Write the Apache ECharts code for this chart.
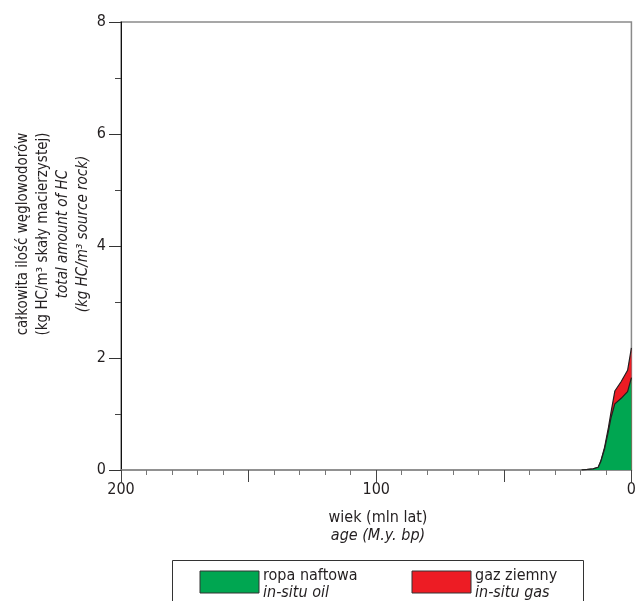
<!DOCTYPE html>
<html>
<head>
<meta charset="utf-8">
<script src="https://cdn.jsdelivr.net/npm/echarts@6/dist/echarts.min.js"></script>
<style>
html,body{margin:0;padding:0;background:#fff;}
#c{width:639px;height:601px;}
</style>
</head>
<body>
<div id="c"></div>
<script>
// ---- data ----
var ages = [19.5, 19, 15, 13, 12, 10.5, 9, 8, 6.5, 4, 1.5, 0];          // M.y. bp
var oil  = [0, 0, 0.02, 0.05, 0.15, 0.38, 0.7, 0.93, 1.18, 1.28, 1.40, 1.65]; // kg HC/m3
var gas  = [0, 0, 0, 0, 0.01, 0.03, 0.06, 0.10, 0.23, 0.30, 0.38, 0.53];     // kg HC/m3
var xTicks = [0, 100, 200];
var yTicks = [0, 2, 4, 6, 8];
var yTitle = ['całkowita ilość węglowodorów', '(kg HC/m³ skały macierzystej)', 'total amount of HC', '(kg HC/m³ source rock)'];
var xTitle = ['wiek (mln lat)', 'age (M.y. bp)'];
var legendNames = [['ropa naftowa', 'in-situ oil'], ['gaz ziemny', 'in-situ gas']];
var colors = ['#00a651', '#ed1c24'];

var FONT = "'DejaVu Sans Condensed', 'Liberation Sans', sans-serif";
var TXT = '#231f20';

// cumulative (oil + gas) for the gas band's top edge
var total = oil.map(function (v, i) { return +(v + gas[i]).toFixed(3); });
function pairs(a, b) { return a.map(function (v, i) { return [v, b[i]]; }); }

var chart = echarts.init(document.getElementById('c'), null, {renderer: 'canvas'});

var graphic = [];
// y-axis title (rotated)
var yX = [23, 43, 63, 83];
yTitle.forEach(function (t, i) {
  graphic.push({
    type: 'text', x: yX[i], y: 234, rotation: Math.PI / 2,
    style: {text: t, font: (i >= 2 ? 'italic ' : '') + '15px ' + FONT, fill: TXT,
      textAlign: 'center', textVerticalAlign: 'middle'}
  });
});
// x-axis title
xTitle.forEach(function (t, i) {
  graphic.push({
    type: 'text', x: 378, y: 518 + i * 18,
    style: {text: t, font: (i === 1 ? 'italic ' : '') + '16px ' + FONT, fill: TXT,
      textAlign: 'center', textVerticalAlign: 'middle'}
  });
});
// legend box
graphic.push({type: 'rect', shape: {x: 172.5, y: 560.5, width: 411, height: 60},
  style: {fill: 'none', stroke: '#333', lineWidth: 1}});
var legX = [200, 412];
legendNames.forEach(function (n, i) {
  graphic.push({type: 'rect', shape: {x: legX[i], y: 571, width: 59, height: 22},
    style: {fill: colors[i], stroke: '#333', lineWidth: 1}});
  graphic.push({type: 'text', x: legX[i] + 63, y: 576,
    style: {text: n[0], font: '16px ' + FONT, fill: TXT, textVerticalAlign: 'middle'}});
  graphic.push({type: 'text', x: legX[i] + 63, y: 593,
    style: {text: n[1], font: 'italic 16px ' + FONT, fill: TXT, textVerticalAlign: 'middle'}});
});

chart.setOption({
  animation: false,
  backgroundColor: '#fff',
  textStyle: {fontFamily: FONT},
  grid: {left: 121, right: 4, top: 22, bottom: 131, show: true, borderColor: '#8a8a8a', borderWidth: 1.5, backgroundColor: 'transparent'},
  xAxis: {
    type: 'value', inverse: true, min: 0, max: 200, interval: 50,
    axisLine: {show: true, onZero: false, lineStyle: {color: '#8a8a8a', width: 1.5}},
    axisTick: {show: true, length: 12, lineStyle: {color: '#444', width: 1}},
    minorTick: {show: true, splitNumber: 5, length: 5, lineStyle: {color: '#777', width: 1}},
    splitLine: {show: false},
    axisLabel: {margin: 12, fontSize: 16, color: TXT, fontFamily: FONT,
      formatter: function (v) { return xTicks.indexOf(v) >= 0 ? String(v) : ''; }}
  },
  yAxis: {
    type: 'value', min: 0, max: 8, interval: 2,
    axisLine: {show: true, onZero: false, lineStyle: {color: '#111', width: 1}},
    axisTick: {show: true, length: 12, lineStyle: {color: '#333', width: 1}},
    minorTick: {show: true, splitNumber: 2, length: 6, lineStyle: {color: '#444', width: 1}},
    splitLine: {show: false},
    axisLabel: {margin: 15, fontSize: 16, color: TXT, fontFamily: FONT,
      formatter: function (v) { return yTicks.indexOf(v) >= 0 ? String(v) : ''; }}
  },
  series: [
    {name: 'gaz ziemny', type: 'line', data: pairs(ages, total), symbol: 'none',
      lineStyle: {color: '#231f20', width: 1.2}, areaStyle: {color: colors[1], opacity: 1}, z: 2},
    {name: 'ropa naftowa', type: 'line', data: pairs(ages, oil), symbol: 'none',
      lineStyle: {color: '#231f20', width: 1.2}, areaStyle: {color: colors[0], opacity: 1}, z: 3}
  ],
  graphic: graphic
});
</script>
</body>
</html>
